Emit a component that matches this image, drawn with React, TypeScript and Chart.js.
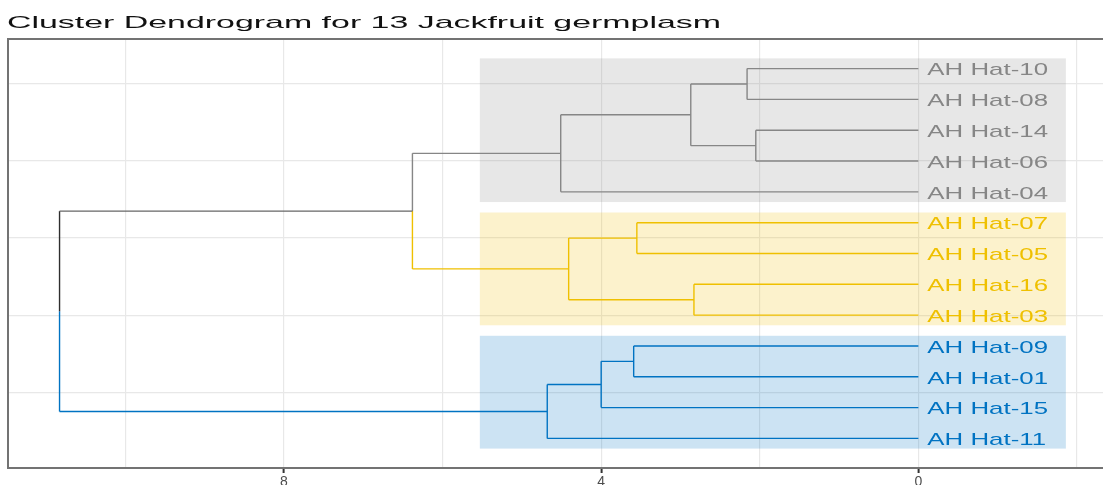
import React, { useEffect, useRef } from "react";
import { Chart, registerables } from "chart.js";
Chart.register(...registerables);

const TITLE = "Cluster Dendrogram for 13 Jackfruit germplasm";

// leaves, top to bottom
const leafLabels = [
  "AH Hat-10", "AH Hat-08", "AH Hat-14", "AH Hat-06", "AH Hat-04",
  "AH Hat-07", "AH Hat-05", "AH Hat-16", "AH Hat-03",
  "AH Hat-09", "AH Hat-01", "AH Hat-15", "AH Hat-11",
];
// hclust-style merges: negative = leaf (1-based index in leafLabels), positive = earlier merge
const mergeLeft = [-1, -3, 1, 3, -6, -8, 5, 4, -10, 9, 10, 8];
const mergeRight = [-2, -4, 2, -5, -7, -9, 6, 7, -11, -12, -13, 11];
const mergeHeights = [2.16, 2.05, 2.87, 4.51, 3.55, 2.83, 4.41, 6.38, 3.59, 4.0, 4.68, 10.83];

const clusterRoots = [4, 7, 11];
const clusterColors = ["#868686", "#EFC000", "#0073C2"];
const clusterFirstLeaf = [1, 6, 10];
const clusterLastLeaf = [5, 9, 13];
const rectLeft = 5.53;
const rectRight = -1.86;
const rectPad = 0.33;

const xGridTicks = [10, 8, 6, 4, 2, 0, -2];
const xLabelTicks = [8, 4, 0];
const yGridTicks = [2.5, 5, 7.5, 10, 12.5];

const ROOT_V_COLOR = "#2e2e2e";
const ROOT_H_COLOR = "#666666";

const nLeaves = leafLabels.length;
const leafY = (i: number) => nLeaves - i + 1;

type NodeInfo = { h: number; y: number };
function nodeInfo(id: number): NodeInfo {
  if (id < 0) return { h: 0, y: leafY(-id) };
  const l = nodeInfo(mergeLeft[id - 1]);
  const r = nodeInfo(mergeRight[id - 1]);
  return { h: mergeHeights[id - 1], y: (l.y + r.y) / 2 };
}
function subtree(id: number, acc: Set<number>) {
  acc.add(id);
  if (id > 0) {
    subtree(mergeLeft[id - 1], acc);
    subtree(mergeRight[id - 1], acc);
  }
  return acc;
}
const clusterSets = clusterRoots.map((r) => subtree(r, new Set<number>()));
function colorOf(id: number): string | null {
  for (let k = 0; k < clusterSets.length; k++) if (clusterSets[k].has(id)) return clusterColors[k];
  return null;
}

function hexA(hex: string, a: number) {
  const n = parseInt(hex.slice(1), 16);
  return `rgba(${(n >> 16) & 255},${(n >> 8) & 255},${n & 255},${a})`;
}

function buildDatasets() {
  const groups: Record<string, { x: number; y: number | null }[]> = {};
  const push = (color: string, pts: { x: number; y: number }[]) => {
    if (!groups[color]) groups[color] = [];
    const g = groups[color];
    if (g.length) g.push({ x: pts[0].x, y: null });
    pts.forEach((p) => g.push(p));
  };
  for (let m = 1; m <= mergeHeights.length; m++) {
    const me = nodeInfo(m);
    for (const c of [mergeLeft[m - 1], mergeRight[m - 1]]) {
      const ci = nodeInfo(c);
      const col = colorOf(c);
      push(col || ROOT_V_COLOR, [{ x: me.h, y: me.y }, { x: me.h, y: ci.y }]);
      push(col || ROOT_H_COLOR, [{ x: me.h, y: ci.y }, { x: ci.h, y: ci.y }]);
    }
  }
  const order = [ROOT_H_COLOR, ROOT_V_COLOR, ...clusterColors];
  return order
    .filter((c) => groups[c])
    .map((c) => ({
      type: "line" as const,
      data: groups[c],
      borderColor: c,
      borderWidth: 1.4,
      pointRadius: 0,
      fill: false,
      tension: 0,
      spanGaps: false,
      borderCapStyle: "butt" as const,
    }));
}

const FONT = "'Liberation Sans', Arial, sans-serif";

const decorPlugin = {
  id: "decor",
  beforeDatasetsDraw(chart: any) {
    const { ctx, scales } = chart;
    const x = scales.x, y = scales.y;
    ctx.save();
    clusterColors.forEach((c, k) => {
      const x1 = x.getPixelForValue(rectLeft);
      const x2 = x.getPixelForValue(rectRight);
      const yTop = y.getPixelForValue(leafY(clusterFirstLeaf[k]) + rectPad);
      const yBot = y.getPixelForValue(leafY(clusterLastLeaf[k]) - rectPad);
      ctx.fillStyle = hexA(c, 0.2);
      ctx.fillRect(x1, yTop, x2 - x1, yBot - yTop);
    });
    ctx.restore();
  },
  afterDatasetsDraw(chart: any) {
    const { ctx, scales, chartArea } = chart;
    const x = scales.x, y = scales.y;
    ctx.save();
    // leaf labels
    ctx.font = `17px ${FONT}`;
    ctx.textBaseline = "alphabetic";
    ctx.textAlign = "left";
    const lx = x.getPixelForValue(0) + 9;
    leafLabels.forEach((lab, i) => {
      const py = y.getPixelForValue(leafY(i + 1));
      ctx.fillStyle = colorOf(-(i + 1)) || "#000";
      ctx.save();
      ctx.translate(lx, py + 6.8);
      ctx.scale(1.52, 1);
      ctx.fillText(lab, 0, 0);
      ctx.restore();
    });
    // panel border (left, top, bottom)
    ctx.strokeStyle = "#737373";
    ctx.lineWidth = 2;
    ctx.beginPath();
    ctx.moveTo(chartArea.right + 20, chartArea.top);
    ctx.lineTo(chartArea.left, chartArea.top);
    ctx.lineTo(chartArea.left, chartArea.bottom);
    ctx.lineTo(chartArea.right + 20, chartArea.bottom);
    ctx.stroke();
    // title
    ctx.font = `17px ${FONT}`;
    ctx.fillStyle = "#111111";
    const w = ctx.measureText(TITLE).width;
    ctx.translate(7, 27.5);
    ctx.scale(714 / w, 1);
    ctx.fillText(TITLE, 0, 0);
    ctx.restore();
  },
};

export default function App() {
  const ref = useRef<HTMLCanvasElement | null>(null);
  useEffect(() => {
    document.body.style.margin = "0";
    const canvas = ref.current!;
    const chart = new Chart(canvas, {
      type: "line",
      data: { datasets: buildDatasets() as any },
      options: {
        responsive: false,
        animation: false,
        devicePixelRatio: 1,
        layout: { padding: { left: 8, top: 39, right: 0, bottom: 0 } },
        plugins: { legend: { display: false }, tooltip: { enabled: false }, title: { display: false } },
        scales: {
          x: {
            type: "linear",
            reverse: true,
            min: -2.53,
            max: 11.48,
            afterBuildTicks: (s: any) => {
              s.ticks = xGridTicks.map((v) => ({ value: v }));
            },
            afterFit: (s: any) => {
              s.height = 32;
            },
            ticks: {
              autoSkip: false,
              maxRotation: 0,
              padding: 1,
              color: "#4d4d4d",
              font: { family: FONT, size: 14 },
              callback: (v: any) => (xLabelTicks.includes(Number(v)) ? String(v) : ""),
            },
            grid: {
              color: "#e8e8e8",
              lineWidth: 1.2,
              tickLength: 5,
              tickWidth: 2,
              tickColor: (c: any) =>
                c.tick && xLabelTicks.includes(c.tick.value) ? "#333333" : "rgba(0,0,0,0)",
            },
            border: { display: false },
          },
          y: {
            type: "linear",
            min: 0.04,
            max: 13.96,
            afterBuildTicks: (s: any) => {
              s.ticks = yGridTicks.map((v) => ({ value: v }));
            },
            ticks: { display: false },
            grid: { color: "#e8e8e8", lineWidth: 1.2, drawTicks: false },
            border: { display: false },
          },
        },
      },
      plugins: [decorPlugin],
    });
    return () => chart.destroy();
  }, []);
  return (
    <div
      style={{
        position: "fixed",
        left: 0,
        top: 0,
        width: 1103,
        height: 485,
        overflow: "hidden",
        background: "#ffffff",
      }}
    >
      <canvas ref={ref} width={1119} height={500} style={{ display: "block" }} />
    </div>
  );
}
